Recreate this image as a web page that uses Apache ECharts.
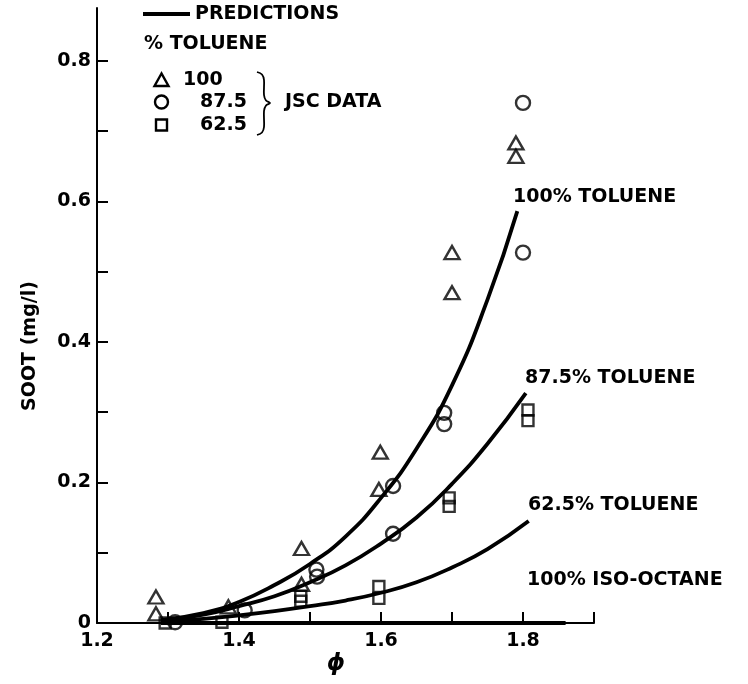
<!DOCTYPE html>
<html>
<head>
<meta charset="utf-8">
<script src="https://cdn.jsdelivr.net/npm/echarts@6/dist/echarts.min.js"></script>
<style>
  html, body { margin: 0; padding: 0; background: #fff; }
  #chart { width: 748px; height: 684px; }
</style>
</head>
<body>
<div id="chart"></div>
<script>
// Equivalence ratio (phi) axis ticks and labels
const phiTicks = [1.2, 1.3, 1.4, 1.5, 1.6, 1.7, 1.8, 1.9];
const phiLabels = [1.2, 1.4, 1.6, 1.8];
// Soot concentration axis ticks and labels (mg/l)
const sootTicks = [0, 0.1, 0.2, 0.3, 0.4, 0.5, 0.6, 0.7, 0.8];
const sootLabels = [0, 0.2, 0.4, 0.6, 0.8];

// JSC measurements: [phi, soot mg/l]
const jsc100 = [[1.283, 0.037], [1.283, 0.013], [1.385, 0.023], [1.488, 0.106], [1.488, 0.055],
                [1.599, 0.243], [1.597, 0.190], [1.700, 0.527], [1.700, 0.470], [1.790, 0.683], [1.790, 0.664]];
const jsc875 = [[1.310, 0.001], [1.408, 0.018], [1.509, 0.076], [1.510, 0.066], [1.617, 0.195],
                [1.617, 0.127], [1.689, 0.299], [1.689, 0.283], [1.800, 0.740], [1.800, 0.527]];
const jsc625 = [[1.296, 0.000], [1.376, 0.001], [1.487, 0.038], [1.487, 0.031], [1.597, 0.052],
                [1.597, 0.035], [1.696, 0.178], [1.696, 0.166], [1.807, 0.303], [1.807, 0.288]];

// Model predictions
const pred100 = [[1.29, 0.004], [1.35, 0.014], [1.40, 0.030], [1.45, 0.054], [1.50, 0.084], [1.55, 0.123],
                 [1.60, 0.178], [1.65, 0.248], [1.70, 0.338], [1.75, 0.460], [1.792, 0.586]];
const pred875 = [[1.29, 0.003], [1.35, 0.012], [1.40, 0.024], [1.45, 0.038], [1.50, 0.058], [1.55, 0.082],
                 [1.60, 0.113], [1.65, 0.150], [1.70, 0.198], [1.75, 0.255], [1.804, 0.327]];
const pred625 = [[1.29, 0.002], [1.35, 0.006], [1.40, 0.011], [1.45, 0.017], [1.50, 0.024], [1.55, 0.032],
                 [1.60, 0.043], [1.65, 0.058], [1.70, 0.079], [1.75, 0.105], [1.808, 0.145]];
const predIso = [[1.29, 0], [1.86, 0]];

const FONT = 'bold 19px "DejaVu Sans"';
const INK = '#000';

function predLine(name, data) {
  return {
    name: name, type: 'line', data: data, symbol: 'none',
    smooth: 0.5, clip: false,
    lineStyle: { color: INK, width: 3.8 }, z: 3
  };
}
function jscPoints(name, data, symbol, size) {
  return {
    name: name, type: 'scatter', data: data, symbol: symbol, symbolSize: size, clip: false,
    itemStyle: { color: 'rgba(0,0,0,0)', borderColor: INK, borderWidth: 2.4 }, z: 4
  };
}
function txt(x, y, text, extra) {
  return Object.assign({ type: 'text', x: x, y: y,
    style: { text: text, font: FONT, fill: INK, align: 'left', verticalAlign: 'middle' } }, extra || {});
}

const chart = echarts.init(document.getElementById('chart'), null, { renderer: 'canvas' });
chart.setOption({
  backgroundColor: '#fff',
  animation: false,
  grid: { left: 97, right: 154, top: 8, bottom: 61, containLabel: false, outerBoundsMode: 'none' },
  xAxis: {
    type: 'value', min: 1.2, max: 1.9, interval: 0.1,
    splitLine: { show: false },
    axisLine: { lineStyle: { color: INK, width: 2 } },
    axisTick: { inside: true, length: 11, lineStyle: { color: INK, width: 2 }, customValues: phiTicks },
    axisLabel: { customValues: phiLabels, color: INK, fontFamily: 'DejaVu Sans', fontWeight: 'bold',
                 fontSize: 19, margin: 9, formatter: v => v.toFixed(1) }
  },
  yAxis: {
    type: 'value', min: 0, max: 0.875, interval: 0.1,
    splitLine: { show: false },
    axisLine: { show: true, lineStyle: { color: INK, width: 2 } },
    axisTick: { show: true, inside: true, length: 11, lineStyle: { color: INK, width: 2 }, customValues: sootTicks },
    axisLabel: { customValues: sootLabels, color: INK, fontFamily: 'DejaVu Sans', fontWeight: 'bold',
                 fontSize: 19, margin: 6, formatter: v => (v === 0 ? '0' : v.toFixed(1)) }
  },
  series: [
    predLine('100% TOLUENE', pred100),
    predLine('87.5% TOLUENE', pred875),
    predLine('62.5% TOLUENE', pred625),
    predLine('100% ISO-OCTANE', predIso),
    jscPoints('100', jsc100, 'triangle', [15, 13]),
    jscPoints('87.5', jsc875, 'circle', 14),
    jscPoints('62.5', jsc625, 'rect', 11)
  ],
  graphic: [
    // axis titles
    txt(30, 346, 'SOOT (mg/l)', { rotation: Math.PI / 2, style: { text: 'SOOT (mg/l)', font: FONT, fill: INK, align: 'center', verticalAlign: 'middle' } }),
    txt(336, 664, 'ϕ', { style: { text: 'ϕ', font: 'italic bold 23px "DejaVu Sans"', fill: INK, align: 'center', verticalAlign: 'middle' } }),
    // key
    { type: 'line', shape: { x1: 143, y1: 14, x2: 190, y2: 14 }, style: { stroke: INK, lineWidth: 4 } },
    txt(195, 14, 'PREDICTIONS'),
    txt(144, 44, '% TOLUENE'),
    { type: 'polygon', shape: { points: [[161.5, 73.5], [154.5, 86], [168.5, 86]] }, style: { fill: 'none', stroke: INK, lineWidth: 2.4 } },
    { type: 'circle', shape: { cx: 161.5, cy: 102, r: 6.5 }, style: { fill: 'none', stroke: INK, lineWidth: 2.4 } },
    { type: 'rect', shape: { x: 156, y: 119.5, width: 11, height: 11 }, style: { fill: 'none', stroke: INK, lineWidth: 2.4 } },
    txt(183, 80, '100'),
    txt(200, 102, '87.5'),
    txt(200, 125, '62.5'),
    { type: 'polyline', shape: { points: [[257, 72], [262, 74.5], [264, 80], [264, 95], [266, 100.5], [270, 103],
                                          [266, 105.5], [264, 111], [264, 127], [262, 132.5], [257, 135]], smooth: 0.35 },
      style: { fill: 'none', stroke: INK, lineWidth: 1.8 } },
    txt(285, 102, 'JSC DATA'),
    // curve labels
    txt(513, 197, '100% TOLUENE'),
    txt(525, 378, '87.5% TOLUENE'),
    txt(528, 505, '62.5% TOLUENE'),
    txt(527, 580, '100% ISO-OCTANE')
  ]
});
</script>
</body>
</html>
